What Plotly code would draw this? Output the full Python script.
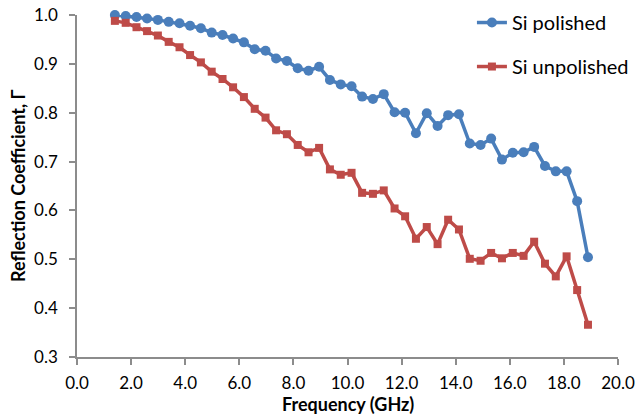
import plotly.graph_objects as go

freq_ghz = [1.40, 1.80, 2.20, 2.59, 2.99, 3.39, 3.79, 4.18, 4.58, 4.98,
            5.38, 5.77, 6.17, 6.57, 6.97, 7.36, 7.76, 8.16, 8.56, 8.95,
            9.35, 9.75, 10.15, 10.54, 10.94, 11.34, 11.74, 12.13, 12.53, 12.93,
            13.33, 13.72, 14.12, 14.52, 14.92, 15.31, 15.71, 16.11, 16.51, 16.90,
            17.30, 17.70, 18.10, 18.49, 18.89]

si_polished = [1.000, 0.998, 0.996, 0.993, 0.990, 0.986, 0.983, 0.978, 0.973, 0.964,
               0.959, 0.952, 0.944, 0.930, 0.927, 0.911, 0.906, 0.891, 0.886, 0.894,
               0.867, 0.858, 0.854, 0.833, 0.828, 0.838, 0.801, 0.800, 0.758, 0.799,
               0.773, 0.795, 0.797, 0.737, 0.734, 0.747, 0.704, 0.718, 0.719, 0.730,
               0.691, 0.680, 0.680, 0.619, 0.504]

si_unpolished = [0.988, 0.984, 0.975, 0.967, 0.958, 0.945, 0.934, 0.918, 0.903, 0.884,
                 0.869, 0.852, 0.832, 0.808, 0.790, 0.764, 0.756, 0.734, 0.719, 0.728,
                 0.684, 0.673, 0.677, 0.636, 0.634, 0.641, 0.604, 0.588, 0.542, 0.566,
                 0.531, 0.581, 0.561, 0.501, 0.497, 0.513, 0.502, 0.513, 0.507, 0.536,
                 0.491, 0.465, 0.506, 0.437, 0.366]

x_ticks = [0, 2, 4, 6, 8, 10, 12, 14, 16, 18, 20]
y_ticks = [0.3, 0.4, 0.5, 0.6, 0.7, 0.8, 0.9, 1.0]

x_title = "Frequency (GHz)"
y_title = "Reflection Coefficient, Γ"

BLUE = "#4A7EBB"
RED = "#BE4B48"
FONT = "Lato"

fig = go.Figure()
fig.add_trace(go.Scatter(
    x=freq_ghz, y=si_polished, mode="lines+markers", name="Si polished",
    line=dict(color=BLUE, width=3.5),
    marker=dict(symbol="circle", size=10, color=BLUE),
    legendgroup="a", cliponaxis=False))
fig.add_trace(go.Scatter(
    x=freq_ghz, y=si_unpolished, mode="lines+markers", name="Si unpolished",
    line=dict(color=RED, width=3.5),
    marker=dict(symbol="square", size=8, color=RED),
    legendgroup="b", cliponaxis=False))

axis_common = dict(showgrid=False, zeroline=False, showline=True,
                   linecolor="#8C8C8C", linewidth=1.5, automargin=False,
                   ticks="outside", tickcolor="#8C8C8C", ticklen=6, tickwidth=1.5,
                   tickfont=dict(family=FONT, size=17, color="#000"))

fig.update_layout(
    width=639, height=417,
    margin=dict(l=77, r=21, t=15, b=60, autoexpand=False),
    paper_bgcolor="white", plot_bgcolor="white",
    font=dict(family=FONT, color="#000"),
    xaxis=dict(range=[0, 20], tickvals=x_ticks,
               ticktext=[f"{v:.1f}" for v in x_ticks],
               ticklabelstandoff=4, **axis_common),
    yaxis=dict(range=[0.3, 1.0], tickvals=y_ticks,
               ticktext=[f"{v:.1f}" for v in y_ticks],
               ticklabelstandoff=8, **axis_common),
    legend=dict(x=0.73, y=1.035, xanchor="left", yanchor="top",
                font=dict(family=FONT, size=20),
                traceorder="grouped", tracegroupgap=15,
                bgcolor="rgba(0,0,0,0)"),
    annotations=[
        dict(text=f"<b>{x_title}</b>", xref="paper", yref="paper",
             x=0.5, y=0, xanchor="center", yanchor="middle", yshift=-47,
             showarrow=False, font=dict(family=FONT, size=18)),
        dict(text=f"<b>{y_title}</b>", xref="paper", yref="paper",
             x=0, y=0.5, xanchor="center", yanchor="middle", xshift=-59,
             textangle=-90, showarrow=False, font=dict(family=FONT, size=18)),
    ],
)

fig.write_html("out.html", config={"displayModeBar": False},
               post_script="document.body.style.margin='0';"
                           "document.body.style.overflow='hidden';")
